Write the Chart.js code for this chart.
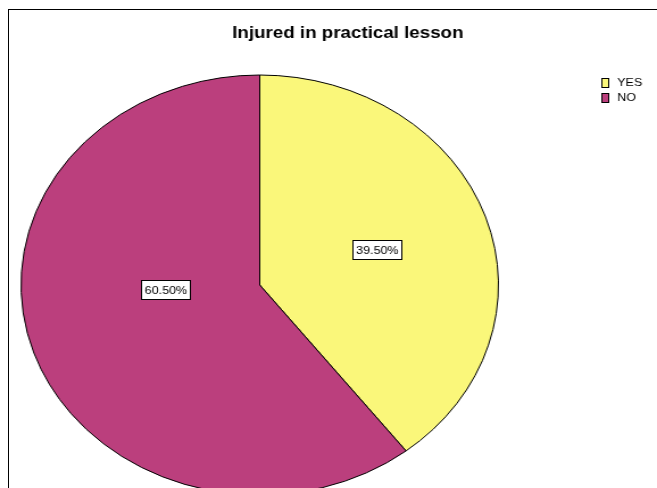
<!DOCTYPE html>
<html><head><meta charset="utf-8">
<script src="https://cdn.jsdelivr.net/npm/chart.js@4.4.1/dist/chart.umd.min.js"></script>
<style>
html,body{margin:0;padding:0;background:#fff;overflow:hidden;width:657px;height:488px;}
#wrap{position:relative;width:657px;height:488px;overflow:hidden;}
#frame{position:absolute;left:8px;top:9px;width:700px;height:600px;border-left:1px solid #000;border-top:1px solid #000;}
#c{position:absolute;left:0;top:0;}
</style></head><body>
<div id="wrap"><div id="frame"></div><canvas id="c" width="578" height="500" style="width:657px;height:500px"></canvas></div>
<script>
// ---- data ----
const chartTitle = 'Injured in practical lesson';
const categories = ['YES', 'NO'];
const percentages = [39.5, 60.5];
const valueLabels = ['39.50%', '60.50%'];

// ---- style ----
const sliceColors = ['#FAF77A', '#BB3F7D'];
const FONT = '"Liberation Sans", Arial, sans-serif';
const pieGeom = {cx: 228.5, cy: 285, r: 210.5};
const labelPlacement = [{along: 0.5, dist: 0.52}, {along: 0.574, dist: 0.395}];
const legendStyle = {boxX: 529.5, boxW: 6, boxH: 9, textX: 543, firstY: 82, step: 15};

const pieArea = {
  id: 'pieArea',
  afterLayout(chart) {
    const {cx, cy, r} = pieGeom;
    chart.chartArea = {left: cx - r, right: cx + r, top: cy - r, bottom: cy + r, width: 2 * r, height: 2 * r};
  }
};

const valueBoxes = {
  id: 'valueBoxes',
  afterDatasetsDraw(chart) {
    const ctx = chart.ctx;
    const meta = chart.getDatasetMeta(0);
    ctx.save();
    ctx.font = '11px ' + FONT;
    ctx.textAlign = 'center';
    ctx.textBaseline = 'middle';
    meta.data.forEach((arc, i) => {
      const p = arc.getProps(['x', 'y', 'startAngle', 'endAngle', 'outerRadius'], true);
      const pl = labelPlacement[i];
      const a = p.startAngle + (p.endAngle - p.startAngle) * pl.along;
      const x = p.x + Math.cos(a) * p.outerRadius * pl.dist;
      const y = p.y + Math.sin(a) * p.outerRadius * pl.dist;
      const text = valueLabels[i];
      const w = Math.round(ctx.measureText(text).width + 6);
      const h = 19;
      const bx = Math.round(x - w / 2) + 0.5, by = Math.round(y - h / 2) + 0.5;
      ctx.fillStyle = '#fff';
      ctx.fillRect(bx, by, w, h);
      ctx.strokeStyle = '#000';
      ctx.lineWidth = 1;
      ctx.strokeRect(bx, by, w, h);
      ctx.fillStyle = '#000';
      ctx.fillText(text, bx + w / 2, by + h / 2 + 0.5);
    });
    ctx.restore();
  }
};

const sideLegend = {
  id: 'sideLegend',
  afterDraw(chart) {
    const ctx = chart.ctx;
    const s = legendStyle;
    ctx.save();
    ctx.font = '11px ' + FONT;
    ctx.textAlign = 'left';
    ctx.textBaseline = 'middle';
    categories.forEach((cat, i) => {
      const yc = s.firstY + i * s.step;
      const bx = s.boxX, by = Math.round(yc - s.boxH / 2) + 0.5;
      ctx.fillStyle = sliceColors[i];
      ctx.fillRect(bx, by, s.boxW, s.boxH);
      ctx.strokeStyle = '#000';
      ctx.lineWidth = 1;
      ctx.strokeRect(bx, by, s.boxW, s.boxH);
      ctx.fillStyle = '#000';
      ctx.fillText(cat, s.textX, yc + 0.5);
    });
    ctx.restore();
  }
};

new Chart(document.getElementById('c'), {
  type: 'pie',
  data: {
    labels: categories,
    datasets: [{
      data: percentages,
      backgroundColor: sliceColors,
      borderColor: '#000',
      borderWidth: 1,
      clip: false
    }]
  },
  options: {
    responsive: false,
    animation: false,
    events: [],
    layout: {padding: {left: 34, right: 0, top: 0, bottom: 0}},
    plugins: {
      legend: {display: false},
      tooltip: {enabled: false},
      title: {
        display: true,
        text: chartTitle,
        color: '#000',
        font: {family: FONT, size: 16.5, weight: 'bold'},
        padding: {top: 24, bottom: 0}
      }
    }
  },
  plugins: [pieArea, valueBoxes, sideLegend]
});
</script>
</body></html>
